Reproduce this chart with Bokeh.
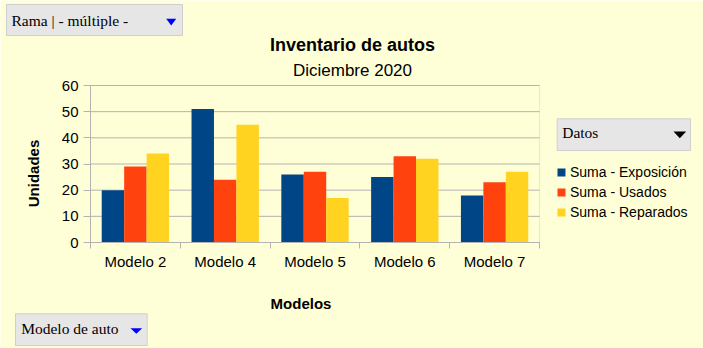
from math import pi
from bokeh.plotting import figure
from bokeh.models import (Range1d, FixedTicker, Legend, LegendItem, Label,
                          BoxAnnotation, PolyAnnotation, ColumnDataSource)
from bokeh.embed import file_html
from bokeh.resources import INLINE

# ---- data ----
categories = ["Modelo 2", "Modelo 4", "Modelo 5", "Modelo 6", "Modelo 7"]
series_names = ["Suma - Exposición", "Suma - Usados", "Suma - Reparados"]
exposicion = [20, 51, 26, 25, 18]
usados = [29, 24, 27, 33, 23]
reparados = [34, 45, 17, 32, 27]
y_ticks = [0, 10, 20, 30, 40, 50, 60]

colors = ["#004586", "#ff420e", "#ffd320"]
BG = "#ffffd7"
GRID = "#b3b3b3"
FONT = "Liberation Sans"
SERIF = "Liberation Serif"

# canvas and plot-area placement (pixels)
W, H = 703, 348
PL, PR, PT, PB = 90, 539, 85, 242
X0, X1 = 0, len(categories)
Y0, Y1 = y_ticks[0], y_ticks[-1]
xpx = (PR - PL) / (X1 - X0)
ypx = (PB - PT) / (Y1 - Y0)
x_range = Range1d(X0 - PL / xpx, X1 + (W - PR) / xpx)
y_range = Range1d(Y0 - (H - PB) / ypx, Y1 + PT / ypx)

p = figure(width=W, height=H, output_backend="svg", toolbar_location=None,
           x_range=x_range, y_range=y_range, min_border=0)
p.background_fill_color = BG
p.border_fill_color = BG
p.outline_line_color = None
p.xgrid.visible = False
p.ygrid.visible = False

# grid lines from the y ticks
gsrc = ColumnDataSource(dict(y=y_ticks, x0=[X0] * len(y_ticks), x1=[X1] * len(y_ticks)))
p.segment(x0="x0", x1="x1", y0="y", y1="y", source=gsrc, line_color=GRID, line_width=1)
p.add_layout(BoxAnnotation(left=X0, right=X1, bottom=Y0, top=Y1, fill_alpha=0,
                           line_color=GRID, line_width=1))

series = [exposicion, usados, reparados]
bar_w = 0.25
offsets = [-0.25, 0.0, 0.25]
renderers = []
for vals, off, col in zip(series, offsets, colors):
    src = ColumnDataSource(dict(x=[i + 0.5 + off for i in range(len(categories))], top=vals))
    r = p.vbar(x="x", top="top", width=bar_w, bottom=0, source=src,
               fill_color=col, line_color=None)
    renderers.append(r)

# x axis: labels at centres, tick marks at boundaries
xa = p.xaxis[0]
xa.fixed_location = Y0
xa.bounds = (X0, X1)
xa.ticker = FixedTicker(ticks=[i + 0.5 for i in range(len(categories))],
                        minor_ticks=list(range(len(categories) + 1)))
xa.major_label_overrides = {i + 0.5: c for i, c in enumerate(categories)}
xa.major_tick_line_color = None
xa.major_tick_out = 0
xa.major_tick_in = 0
xa.minor_tick_line_color = GRID
xa.minor_tick_out = 6
xa.minor_tick_in = 0
xa.axis_line_color = GRID
xa.major_label_standoff = 4
xa.major_label_text_font = FONT
xa.major_label_text_font_size = "15px"
xa.major_label_text_color = "black"

ya = p.yaxis[0]
ya.fixed_location = X0
ya.bounds = (Y0, Y1)
ya.ticker = FixedTicker(ticks=y_ticks)
ya.major_tick_line_color = GRID
ya.major_tick_out = 7
ya.major_tick_in = 0
ya.minor_tick_line_color = None
ya.axis_line_color = GRID
ya.major_label_standoff = 5
ya.major_label_text_font = FONT
ya.major_label_text_font_size = "15px"
ya.major_label_text_color = "black"

def label(x, y, text, size, bold=False, font=FONT, align="left", angle=0):
    p.add_layout(Label(x=x, y=y, x_units="screen", y_units="screen", text=text,
                       text_align=align, text_baseline="alphabetic", angle=angle,
                       text_font=font, text_font_size=size,
                       text_font_style="bold" if bold else "normal", text_color="black"))

# titles and axis titles (screen units: y measured up from the bottom)
label(352, 304, "Inventario de autos", "18px", bold=True, align="center")
label(352, 278, "Diciembre 2020", "17px", align="center")
label(33, 175, "Unidades", "15px", bold=True, align="center", angle=pi / 2)
label(300.5, 45, "Modelos", "15px", bold=True, align="center")

# legend
legend = Legend(items=[LegendItem(label=n, renderers=[r]) for n, r in zip(series_names, renderers)],
                location=(556, 126), glyph_width=10, glyph_height=10, label_height=20,
                label_standoff=4, spacing=0, padding=0, margin=0,
                border_line_color=None, background_fill_alpha=0,
                label_text_font=FONT, label_text_font_size="14px", label_text_color="black")
p.add_layout(legend, "center")

# pivot field buttons
def button(left, right, top, bottom, text, tx, ty, tri_xs, tri_ys, tri_color):
    p.add_layout(BoxAnnotation(left=left, right=right, top=top, bottom=bottom,
                               left_units="screen", right_units="screen",
                               top_units="screen", bottom_units="screen",
                               fill_color="#e6e6e6", fill_alpha=1,
                               line_color="#cfcfcf", line_width=1, line_alpha=1))
    label(tx, ty, text, "15.5px", font=SERIF)
    p.add_layout(PolyAnnotation(xs=tri_xs, ys=tri_ys, xs_units="screen", ys_units="screen",
                                fill_color=tri_color, fill_alpha=1, line_color=None))

button(6, 182, 344, 313, "Rama | - múltiple -", 11, 328,
       [165.7, 175.7, 170.7], [329.7, 329.7, 323], "#0000ff")
button(556.7, 690, 229.7, 198, "Datos", 561.7, 215.7,
       [673, 685.7, 679.3], [217, 217, 210.3], "#000000")
button(15, 146.7, 34.7, 3, "Modelo de auto", 20.7, 20,
       [130, 141.7, 135.8], [20.3, 20.3, 14.7], "#0000ff")

open("out.html", "w").write(file_html(p, INLINE))
